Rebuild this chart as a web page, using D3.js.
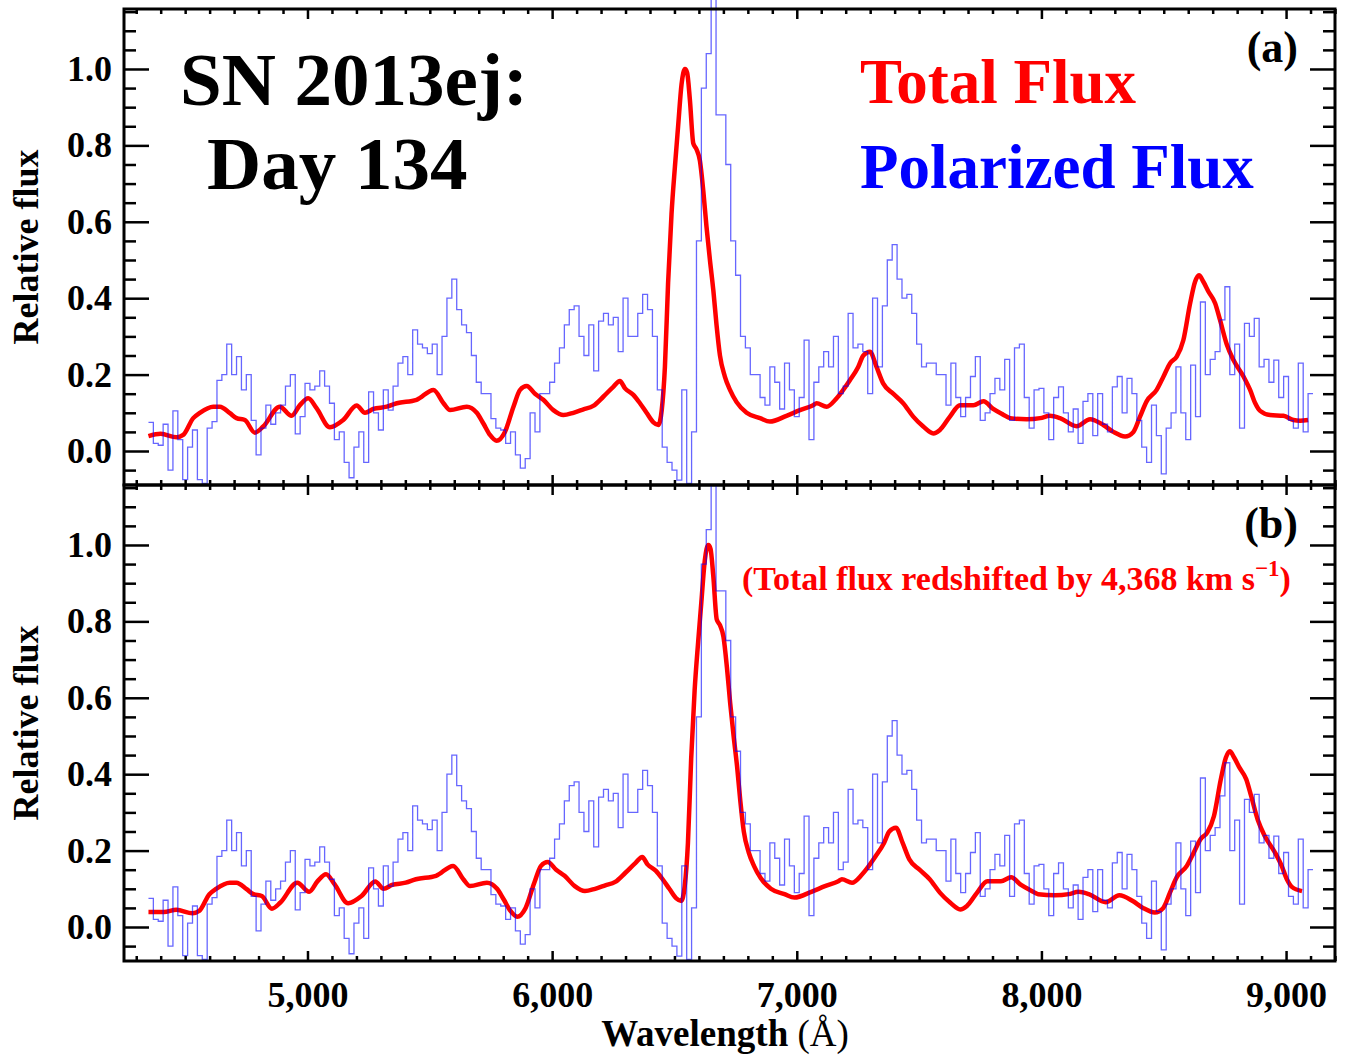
<!DOCTYPE html>
<html>
<head>
<meta charset="utf-8">
<script src="https://cdn.jsdelivr.net/npm/d3@7"></script>
<style>
  body { margin: 0; background: #fff; }
  text { font-family: "Liberation Serif", "Times New Roman", serif; font-weight: bold; }
</style>
</head>
<body>
<div id="chart"></div>
<script>
// polarized flux, binned, first bin at 4350 A, 20 A per bin
const polStart = 4350;
const polStep = 20;
const polFlux = [
  0.075, 0.02, 0.015, 0.07, -0.05, 0.105, 0.03, -0.075,
  0.01, 0.055, -0.075, -0.085, 0.06, 0.077, 0.185, 0.2,
  0.28, 0.2, 0.247, 0.16, 0.2, 0.08, -0.01, 0.06,
  0.12, 0.07, 0.1, 0.12, 0.17, 0.2, 0.045, 0.09,
  0.177, 0.16, 0.17, 0.21, 0.17, 0.125, 0.03, 0.05,
  -0.03, -0.07, 0.01, 0.05, -0.03, 0.155, 0.1, 0.055,
  0.16, 0.107, 0.17, 0.23, 0.247, 0.2, 0.317, 0.28,
  0.27, 0.255, 0.28, 0.2, 0.3, 0.4, 0.45, 0.37,
  0.33, 0.31, 0.25, 0.18, 0.15, 0.15, 0.085, 0.06,
  0.055, 0.02, 0.05, -0.01, -0.045, -0.02, 0.1, 0.05,
  0.15, 0.15, 0.18, 0.23, 0.27, 0.33, 0.37, 0.38,
  0.3, 0.25, 0.33, 0.21, 0.34, 0.36, 0.33, 0.35,
  0.26, 0.4, 0.3, 0.3, 0.36, 0.41, 0.37, 0.3,
  0.16, 0.01, -0.03, -0.05, -0.076, 0.16, -0.085, 0.05,
  0.55, 0.95, 1.04, 1.2, 0.88, 0.88, 0.75, 0.55,
  0.46, 0.3, 0.27, 0.2, 0.2, 0.14, 0.12, 0.22,
  0.18, 0.11, 0.23, 0.16, 0.09, 0.14, 0.29, 0.03,
  0.18, 0.22, 0.26, 0.22, 0.3, 0.15, 0.17, 0.36,
  0.27, 0.28, 0.26, 0.15, 0.4, 0.22, 0.38, 0.5,
  0.54, 0.45, 0.4, 0.41, 0.36, 0.28, 0.22, 0.23,
  0.23, 0.2, 0.2, 0.12, 0.23, 0.14, 0.09, 0.14,
  0.195, 0.247, 0.08, 0.1, 0.15, 0.19, 0.16, 0.24,
  0.08, 0.27, 0.28, 0.14, 0.06, 0.16, 0.164, 0.1,
  0.03, 0.14, 0.168, 0.1, 0.05, 0.11, 0.02, 0.13,
  0.15, 0.04, 0.15, 0.07, 0.05, 0.168, 0.195, 0.1,
  0.19, 0.15, 0.08, 0.01, -0.03, 0.12, 0.04, -0.06,
  0.06, 0.1, 0.22, 0.1, 0.03, 0.225, 0.09, 0.39,
  0.2, 0.24, 0.26, 0.343, 0.43, 0.2, 0.28, 0.06,
  0.334, 0.3, 0.347, 0.22, 0.24, 0.18, 0.238, 0.14,
  0.195, 0.08, 0.06, 0.23, 0.05, 0.15
];

// total flux (smooth)
const totalWave = [
  4350, 4400, 4465, 4492, 4533, 4560, 4615, 4642, 4683, 4710, 4744, 4785, 4819, 4887, 4935, 4969,
  5003, 5037, 5092, 5146, 5201, 5235, 5269, 5324, 5365, 5446, 5515, 5556, 5583, 5651, 5692, 5719,
  5746, 5773, 5807, 5842, 5869, 5896, 5930, 5964, 6005, 6046, 6087, 6128, 6168, 6209, 6250, 6277,
  6298, 6332, 6359, 6386, 6414, 6434, 6448, 6461, 6474, 6488, 6502, 6515, 6529, 6543, 6552, 6563,
  6577, 6590, 6604, 6618, 6631, 6645, 6659, 6672, 6686, 6706, 6727, 6754, 6795, 6850, 6890, 6958,
  7013, 7067, 7081, 7122, 7163, 7217, 7251, 7272, 7299, 7326, 7353, 7394, 7435, 7476, 7517, 7558,
  7585, 7626, 7667, 7722, 7763, 7803, 7844, 7872, 7940, 7995, 8035, 8076, 8144, 8199, 8253, 8294,
  8342, 8376, 8403, 8430, 8471, 8499, 8526, 8553, 8580, 8608, 8628, 8644, 8662, 8683, 8710, 8730,
  8757, 8785, 8826, 8853, 8874, 8894, 8935, 8989, 9030, 9057, 9090
];
const totalFlux = [
  0.039, 0.045, 0.036, 0.042, 0.086, 0.10, 0.116, 0.116, 0.099, 0.086, 0.081, 0.048, 0.064, 0.116, 0.092, 0.12,
  0.138, 0.112, 0.062, 0.081, 0.119, 0.10, 0.11, 0.116, 0.125, 0.134, 0.16, 0.125, 0.107, 0.116, 0.10, 0.072,
  0.042, 0.027, 0.05, 0.116, 0.16, 0.17, 0.15, 0.134, 0.107, 0.094, 0.10, 0.109, 0.118, 0.142, 0.168, 0.183,
  0.164, 0.147, 0.125, 0.10, 0.075, 0.068, 0.107, 0.22, 0.44, 0.62, 0.745, 0.85, 0.96, 1.0, 0.99, 0.92,
  0.805, 0.79, 0.76, 0.68, 0.587, 0.50, 0.42, 0.33, 0.25, 0.195, 0.16, 0.128, 0.10, 0.086, 0.077, 0.092,
  0.107, 0.12, 0.125, 0.116, 0.138, 0.185, 0.22, 0.25, 0.26, 0.22, 0.177, 0.15, 0.125, 0.09, 0.064, 0.046,
  0.055, 0.09, 0.12, 0.12, 0.13, 0.11, 0.095, 0.086, 0.083, 0.086, 0.092, 0.086, 0.065, 0.083, 0.068, 0.05,
  0.038, 0.05, 0.09, 0.13, 0.16, 0.195, 0.23, 0.247, 0.29, 0.387, 0.443, 0.46, 0.443, 0.417, 0.387, 0.343,
  0.28, 0.238, 0.195, 0.16, 0.125, 0.105, 0.094, 0.092, 0.081, 0.079, 0.081
];

const xTicks = [5000, 6000, 7000, 8000, 9000];
const yTicks = [0, 0.2, 0.4, 0.6, 0.8, 1.0];
const shiftKms = 4368;
const cLight = 299792.458;

const W = 1347, H = 1057;
const svg = d3.select("#chart").append("svg")
  .attr("width", W)
  .attr("height", H);

const x = d3.scaleLinear().domain([4250, 9200]).range([124, 1335]);

const panels = [
  {top: 9, bottom: 485, label: "(a)", shifted: false},
  {top: 485, bottom: 961, label: "(b)", shifted: true}
];

const polPoints = polFlux.map((v, i) => [polStart + i * polStep, v]);
polPoints.push([polStart + polFlux.length * polStep, polFlux[polFlux.length - 1]]);

const minorX = d3.range(4300, 9201, 100).filter(d => d % 1000 !== 0);
const minorY = d3.range(-0.05, 1.16, 0.05).map(d => +d.toFixed(2))
  .filter(d => Math.abs(d * 5 - Math.round(d * 5)) > 1e-6);

panels.forEach((p, pi) => {
  const y = d3.scaleLinear().domain([-0.089, 1.157]).range([p.bottom, p.top]);
  const g = svg.append("g");

  // clip region for the data
  const clipId = "clip" + pi;
  svg.append("clipPath").attr("id", clipId)
    .append("rect")
    .attr("x", 124).attr("width", 1211)
    .attr("y", pi === 0 ? 0 : p.top).attr("height", pi === 0 ? p.bottom : p.bottom - p.top);

  // total flux
  let redPts = totalWave.map((w, i) => [w, totalFlux[i]]);
  if (p.shifted) {
    const f = 1 + shiftKms / cLight;
    redPts = redPts.map(d => [d[0] * f, d[1]]).filter(d => d[0] <= 9090);
    redPts.unshift([4350, totalFlux[0]]);
  }
  const redLine = d3.line()
    .x(d => x(d[0])).y(d => y(d[1]))
    .curve(d3.curveMonotoneX);
  g.append("path")
    .datum(redPts)
    .attr("clip-path", `url(#${clipId})`)
    .attr("fill", "none")
    .attr("stroke", "#ff0000")
    .attr("stroke-width", 4.5)
    .attr("stroke-linejoin", "round")
    .attr("d", redLine);

  // polarized flux (histogram)
  const blueLine = d3.line()
    .x(d => x(d[0])).y(d => y(d[1]))
    .curve(d3.curveStepAfter);
  g.append("path")
    .datum(polPoints)
    .attr("clip-path", `url(#${clipId})`)
    .attr("fill", "none")
    .attr("stroke", "#0000ff")
    .attr("stroke-opacity", 0.6)
    .attr("stroke-width", 1.3)
    .attr("d", blueLine);

  // axes: left with labels, right / top / bottom ticks only
  g.append("g").attr("transform", "translate(124,0)")
    .call(d3.axisLeft(y).tickValues(yTicks).tickSize(-25).tickPadding(12).tickFormat(d3.format(".1f")));
  g.append("g").attr("transform", "translate(124,0)")
    .call(d3.axisLeft(y).tickValues(minorY).tickSize(-12).tickFormat(""));
  g.append("g").attr("transform", "translate(1335,0)")
    .call(d3.axisRight(y).tickValues(yTicks).tickSize(-25).tickFormat(""));
  g.append("g").attr("transform", "translate(1335,0)")
    .call(d3.axisRight(y).tickValues(minorY).tickSize(-12).tickFormat(""));

  const bottomAx = g.append("g").attr("transform", `translate(0,${p.bottom})`)
    .call(d3.axisBottom(x).tickValues(xTicks).tickSize(-10).tickPadding(14)
      .tickFormat(pi === 1 ? d3.format(",") : ""));
  g.append("g").attr("transform", `translate(0,${p.bottom})`)
    .call(d3.axisBottom(x).tickValues(minorX).tickSize(-5).tickFormat(""));
  g.append("g").attr("transform", `translate(0,${p.top})`)
    .call(d3.axisTop(x).tickValues(xTicks).tickSize(-10).tickFormat(""));
  g.append("g").attr("transform", `translate(0,${p.top})`)
    .call(d3.axisTop(x).tickValues(minorX).tickSize(-5).tickFormat(""));

  g.selectAll(".domain").remove();
  g.selectAll(".tick line").attr("stroke", "#000").attr("stroke-width", 2.5);
  g.selectAll(".tick text")
    .attr("fill", "#000")
    .style("font-size", "36px")
    .style("font-family", "'Liberation Serif', 'Times New Roman', serif")
    .style("font-weight", "bold");
  bottomAx.selectAll(".tick text").attr("dy", "0.9em");

  // frame
  g.append("rect")
    .attr("x", 124).attr("y", p.top)
    .attr("width", 1211).attr("height", p.bottom - p.top)
    .attr("fill", "none")
    .attr("stroke", "#000")
    .attr("stroke-width", 3);

  // y title
  svg.append("text")
    .attr("transform", `translate(38,${(p.top + p.bottom) / 2}) rotate(-90)`)
    .attr("text-anchor", "middle")
    .style("font-size", "36px")
    .text("Relative flux");

  // panel letter
  svg.append("text")
    .attr("x", 1298).attr("y", p.top + 53)
    .attr("text-anchor", "end")
    .style("font-size", "44px")
    .text(p.label);
});

// titles in panel (a)
svg.append("text").attr("x", 180).attr("y", 105)
  .style("font-size", "75px").text("SN 2013ej:");
svg.append("text").attr("x", 207).attr("y", 189)
  .style("font-size", "75px").text("Day 134");
svg.append("text").attr("x", 860).attr("y", 103)
  .attr("fill", "#ff0000").style("font-size", "63px").text("Total Flux");
svg.append("text").attr("x", 860).attr("y", 188)
  .attr("fill", "#0000ff").style("font-size", "63px").text("Polarized Flux");

// note in panel (b)
const note = svg.append("text").attr("x", 742).attr("y", 590)
  .attr("fill", "#ff0000").style("font-size", "34px");
note.append("tspan").text("(Total flux redshifted by 4,368 km s");
note.append("tspan").attr("dy", -14).style("font-size", "23px").text("\u22121");
note.append("tspan").attr("dy", 14).text(")");

// x title
const xt = svg.append("text").attr("x", 725).attr("y", 1046)
  .attr("text-anchor", "middle").style("font-size", "37px");
xt.append("tspan").text("Wavelength ");
xt.append("tspan").style("font-weight", "normal").text("(\u00c5)");
</script>
</body>
</html>
